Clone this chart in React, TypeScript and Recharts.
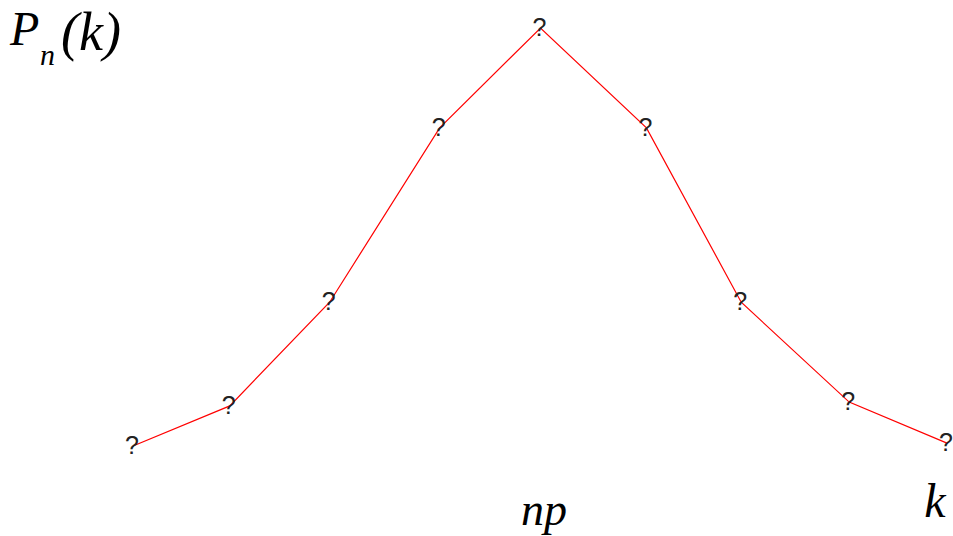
import React from "react";
import { LineChart, Line, XAxis, YAxis } from "recharts";

// Position of each k along the horizontal axis
const kPositions = [0, 0.95, 1.93, 3.01, 4.0, 5.04, 5.97, 7.03, 7.99];
// Probability P_n(k) at each k (peak normalised to 1)
const probabilities = [0, 0.096, 0.344, 0.761, 1.0, 0.761, 0.344, 0.105, 0.007];
// Marker glyph drawn at every point
const pointMarker = "?";

const data = kPositions.map((k, i) => ({ k, p: probabilities[i] }));

const MarkerDot = (props: any) => {
  const { cx, cy, index } = props;
  if (cx == null || cy == null) return <g key={`m-${index}`} />;
  return (
    <text
      key={`m-${index}`}
      x={cx - 1}
      y={cy + 8}
      textAnchor="middle"
      fontFamily="Liberation Sans"
      fontSize={25}
      fill="#222"
    >
      {pointMarker}
    </text>
  );
};

export default function App() {
  return (
    <div style={{ position: "absolute", left: 0, top: 0, width: 953, height: 536, background: "#fff" }}>
      <LineChart
        width={953}
        height={536}
        data={data}
        margin={{ top: 28, right: 5, bottom: 90, left: 133 }}
      >
        <XAxis dataKey="k" type="number" domain={[0, 8]} hide />
        <YAxis type="number" domain={[0, 1]} hide />
        <Line
          type="linear"
          dataKey="p"
          stroke="#ff0000"
          strokeWidth={1.2}
          dot={MarkerDot}
          activeDot={false}
          isAnimationActive={false}
        />
      </LineChart>
      {/* axis titles */}
      <svg
        width={953}
        height={536}
        style={{ position: "absolute", left: 0, top: 0, pointerEvents: "none" }}
      >
        <text fontFamily="Liberation Serif" fontStyle="italic" fill="#000">
          <tspan x={10} y={45} fontSize={48}>P</tspan>
          <tspan x={40} y={65} fontSize={30}>n</tspan>
          <tspan x={61} y={50} fontSize={54}>(k)</tspan>
        </text>
        <text x={544} y={525} textAnchor="middle" fontFamily="Liberation Serif" fontStyle="italic" fontSize={46} fill="#000">np</text>
        <text x={935} y={517} textAnchor="middle" fontFamily="Liberation Serif" fontStyle="italic" fontSize={48} fill="#000">k</text>
      </svg>
    </div>
  );
}
